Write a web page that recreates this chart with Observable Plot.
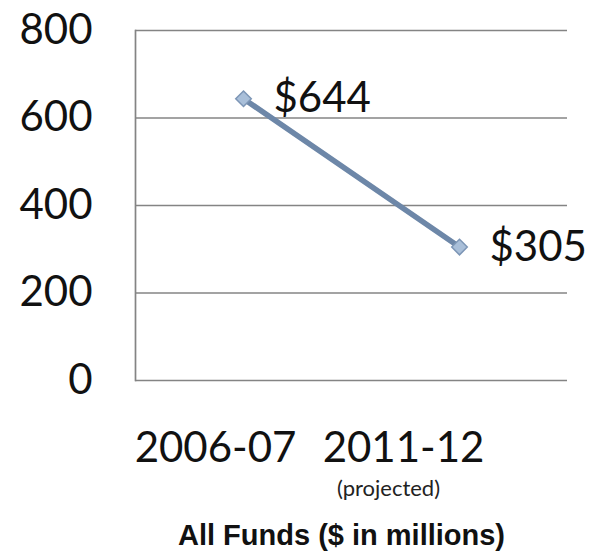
<!DOCTYPE html>
<html>
<head>
<meta charset="utf-8">
<script src="https://cdn.jsdelivr.net/npm/d3@7"></script>
<script src="https://cdn.jsdelivr.net/npm/@observablehq/plot@0.6"></script>
<style>
  html, body { margin: 0; padding: 0; background: #fff; }
  #chart svg { display: block; }
</style>
</head>
<body>
<div id="chart"></div>
<script>
const categories = ["2006-07", "2011-12"];
const values = [644, 305];
const valueLabels = ["$644", "$305"];
const yTicks = [0, 200, 400, 600, 800];
const subLabel = "(projected)";
const title = "All Funds ($ in millions)";

const data = categories.map((c, i) => ({cat: c, value: values[i], label: valueLabels[i]}));
const font = "Lato, 'Open Sans', sans-serif";

const chart = Plot.plot({
  width: 594,
  height: 552,
  marginTop: 30,
  marginBottom: 172,
  marginLeft: 135,
  marginRight: 27,
  style: {background: "#fff", fontFamily: font, color: "#111"},
  x: {type: "point", domain: categories, padding: 0.5},
  y: {domain: [0, 800]},
  marks: [
    Plot.ruleY(yTicks, {stroke: "#848484", strokeWidth: 1.7}),
    Plot.frame({anchor: "left", stroke: "#848484", strokeWidth: 1.7}),
    Plot.axisY(yTicks, {tickSize: 0, tickPadding: 43, fontSize: 42, label: null, tickFormat: d => String(d), fill: "#111"}),
    Plot.axisX([categories[0]], {tickSize: 0, tickPadding: 52, fontSize: 42, label: null, dx: -28, fill: "#111"}),
    Plot.axisX([categories[1]], {tickSize: 0, tickPadding: 52, fontSize: 42, label: null, dx: -56, fill: "#111"}),
    Plot.text([subLabel], {x: () => categories[1], frameAnchor: "bottom", dy: 108, dx: -71, fontSize: 22, fill: "#222", lineAnchor: "middle"}),
    Plot.text([title], {frameAnchor: "bottom", dy: 155, dx: -10, fontSize: 29, fontWeight: "bold", fontFamily: "'Liberation Sans', Arial, sans-serif", fill: "#111", lineAnchor: "middle"}),
    Plot.line(data, {x: "cat", y: "value", stroke: "#6d87a8", strokeWidth: 5.5}),
    Plot.dot(data, {x: "cat", y: "value", symbol: "diamond2", r: 7, fill: "#a9bfd9", stroke: "#7d96b6", strokeWidth: 1.5}),
    Plot.text(data, {x: "cat", y: "value", text: "label", dx: 30, textAnchor: "start", fontSize: 42, fill: "#111", lineAnchor: "middle"})
  ]
});
document.getElementById("chart").appendChild(chart);
</script>
</body>
</html>
